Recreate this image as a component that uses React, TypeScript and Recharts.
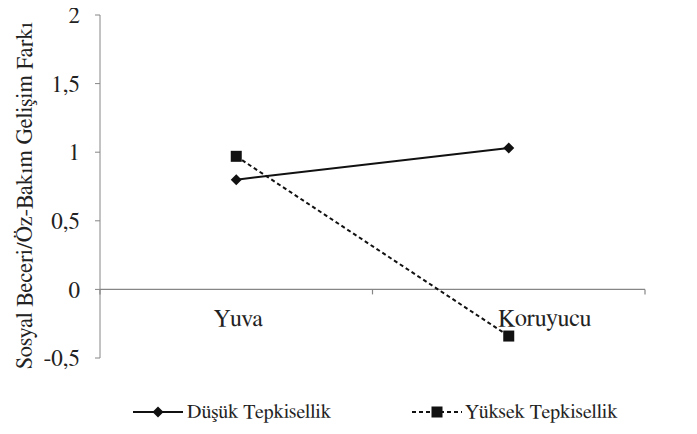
import React from "react";
import {
    LineChart,
    Line,
    XAxis,
    YAxis,
    ReferenceLine,
    Legend,
} from "recharts";

const categories = ["Yuva", "Koruyucu"];
const dusukTepkisellik = [0.8, 1.03];
const yuksekTepkisellik = [0.97, -0.34];
const yTicks = [-0.5, 0, 0.5, 1, 1.5, 2];

const seriesNames = {
    dusuk: "Düşük Tepkisellik",
    yuksek: "Yüksek Tepkisellik",
};

const chartData = categories.map((name, i) => ({
    name,
    dusuk: dusukTepkisellik[i],
    yuksek: yuksekTepkisellik[i],
}));

const FONT = "FreeSerif, Liberation Serif, serif";
const TEXT = "#222";
const AXIS = "#868686";

const Diamond = ({ cx, cy }: any) => {
    if (cx == null || cy == null) return null;
    const r = 5.5;
    return (
        <polygon
            points={`${cx},${cy - r} ${cx + r},${cy} ${cx},${cy + r} ${cx - r},${cy}`}
            fill="#111"
        />
    );
};

const Square = ({ cx, cy }: any) => {
    if (cx == null || cy == null) return null;
    const s = 11;
    return <rect x={cx - s / 2} y={cy - s / 2} width={s} height={s} fill="#111" />;
};

// category axis drawn along the zero line, like the original
const ZeroAxis = ({ viewBox }: any) => {
    if (!viewBox) return null;
    const { x, y, width } = viewBox;
    const band = width / categories.length;
    const shift = [2, 36];
    return (
        <g>
            {Array.from({ length: categories.length + 1 }).map((_, i) => (
                <line
                    key={`t${i}`}
                    x1={x + i * band}
                    x2={x + i * band}
                    y1={y}
                    y2={y + 5}
                    stroke={AXIS}
                    strokeWidth={1.2}
                />
            ))}
            {categories.map((c, i) => (
                <text
                    key={c}
                    x={x + band * (i + 0.5) + shift[i]}
                    y={y + 37}
                    textAnchor="middle"
                    fontFamily={FONT}
                    fontSize={24}
                    fill={TEXT}
                >
                    {c}
                </text>
            ))}
        </g>
    );
};

const YLabel = ({ viewBox }: any) => {
    if (!viewBox) return null;
    const cx = viewBox.x + 32;
    const cy = viewBox.y + viewBox.height / 2 + 9;
    return (
        <text
            x={cx}
            y={cy}
            transform={`rotate(-90, ${cx}, ${cy})`}
            textAnchor="middle"
            fontFamily={FONT}
            fontSize={22.5}
            fill={TEXT}
        >
            Sosyal Beceri/Öz-Bakım Gelişim Farkı
        </text>
    );
};

const LegendContent = () => (
    <div style={{ position: "relative", height: 76, fontFamily: FONT, fontSize: 20, color: TEXT }}>
        <div style={{ position: "absolute", left: 133, top: 44, display: "flex", alignItems: "center", height: 20 }}>
            <svg width={50} height={20}>
                <line x1={0} x2={50} y1={10} y2={10} stroke="#111" strokeWidth={2} />
                <Diamond cx={25} cy={10} />
            </svg>
            <span style={{ marginLeft: 4, whiteSpace: "nowrap" }}>{seriesNames.dusuk}</span>
        </div>
        <div style={{ position: "absolute", left: 412, top: 44, display: "flex", alignItems: "center", height: 20 }}>
            <svg width={50} height={20}>
                <line x1={0} x2={50} y1={10} y2={10} stroke="#111" strokeWidth={2} strokeDasharray="4 3" />
                <Square cx={25} cy={10} />
            </svg>
            <span style={{ marginLeft: 3, whiteSpace: "nowrap" }}>{seriesNames.yuksek}</span>
        </div>
    </div>
);

export default function App() {
    return (
        <div style={{ width: 697, height: 434, margin: -8, background: "#fff", overflow: "hidden" }}>
            <LineChart
                width={697}
                height={434}
                data={chartData}
                margin={{ top: 15, right: 52, left: 0, bottom: 0 }}
            >
                <XAxis dataKey="name" hide scale="band" />
                <YAxis
                    width={100}
                    domain={[-0.5, 2]}
                    ticks={yTicks}
                    interval={0}
                    stroke={AXIS}
                    tickSize={5}
                    tickMargin={15}
                    tick={{ fill: TEXT, fontSize: 23, fontFamily: FONT }}
                    tickFormatter={(v: number) => String(v).replace(".", ",")}
                    label={(props: any) => <YLabel {...props} />}
                />
                <ReferenceLine
                    y={0}
                    stroke={AXIS}
                    strokeWidth={1.2}
                    label={(props: any) => <ZeroAxis {...props} />}
                />
                <Legend
                    verticalAlign="bottom"
                    wrapperStyle={{ left: 0, width: 697 }}
                    content={() => <LegendContent />}
                />
                <Line
                    dataKey="dusuk"
                    name={seriesNames.dusuk}
                    stroke="#111"
                    strokeWidth={2}
                    dot={(p: any) => <Diamond key={`d${p.index}`} {...p} />}
                    isAnimationActive={false}
                />
                <Line
                    dataKey="yuksek"
                    name={seriesNames.yuksek}
                    stroke="#111"
                    strokeWidth={2}
                    strokeDasharray="4 3"
                    dot={(p: any) => <Square key={`s${p.index}`} {...p} />}
                    isAnimationActive={false}
                />
            </LineChart>
        </div>
    );
}
